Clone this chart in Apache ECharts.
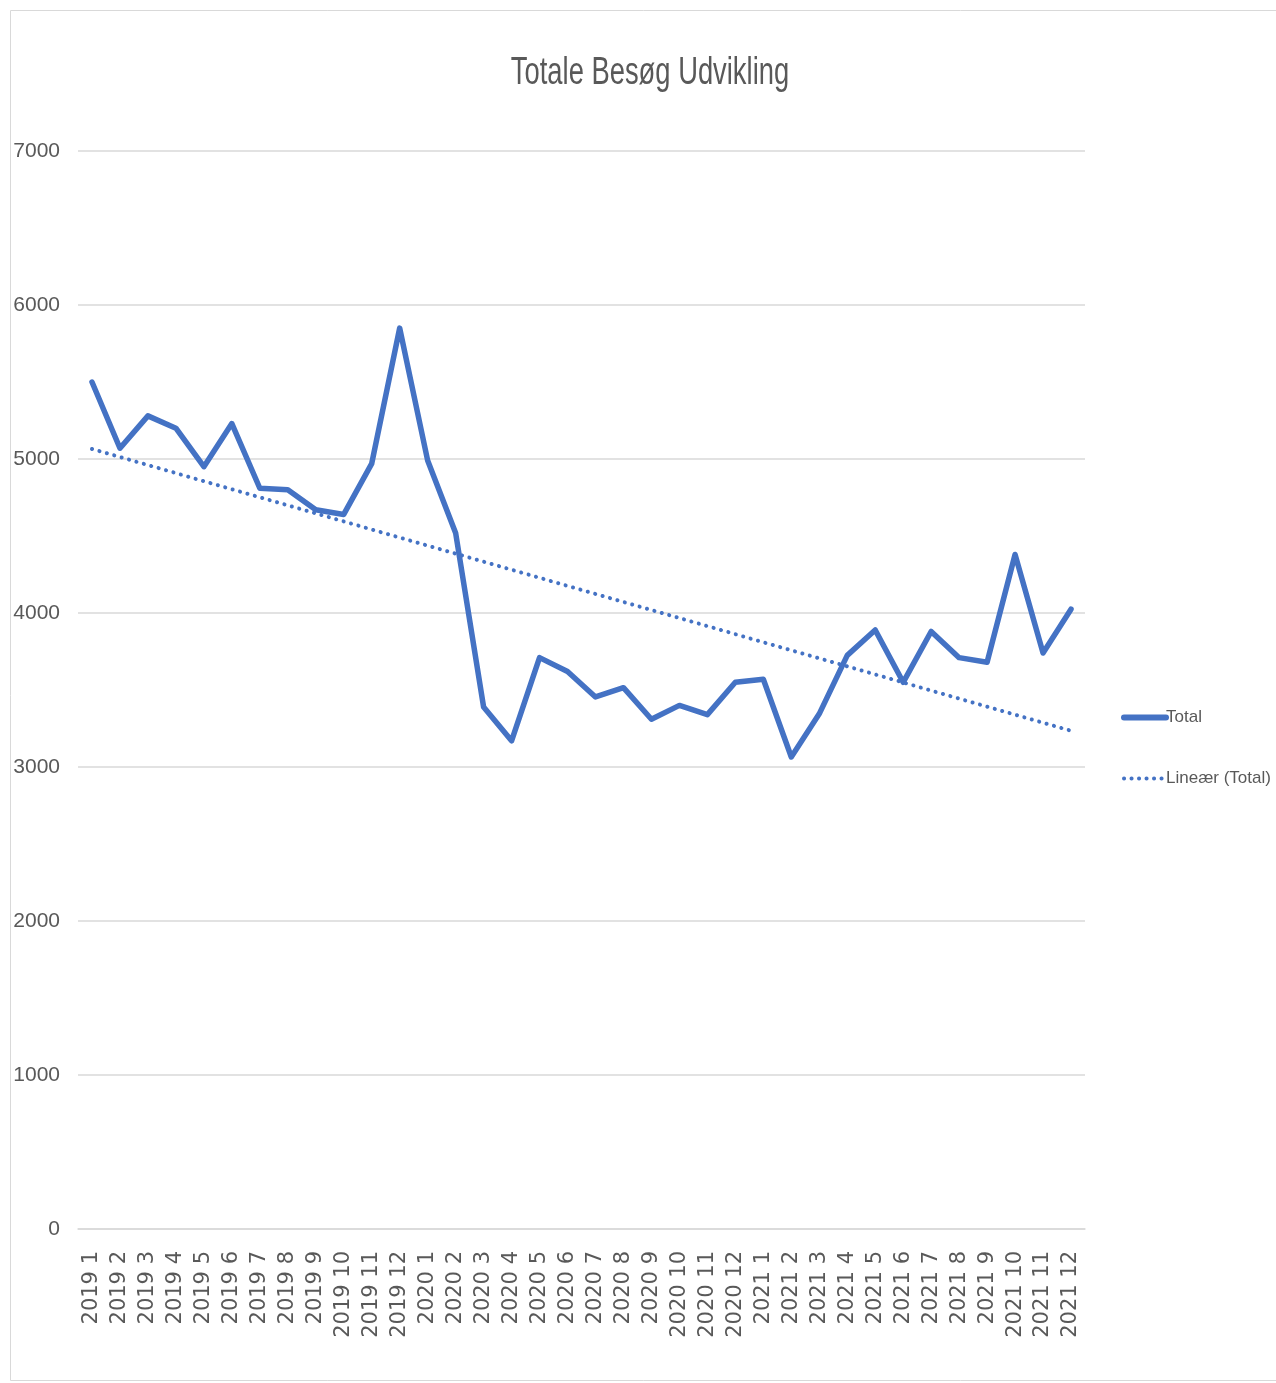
<!DOCTYPE html>
<html>
<head>
<meta charset="utf-8">
<script src="https://cdn.jsdelivr.net/npm/echarts@6/dist/echarts.min.js"></script>
<style>
  html, body { margin: 0; padding: 0; background: #fff; }
  #chart { width: 1276px; height: 1383px; }
</style>
</head>
<body>
<div id="chart"></div>
<script>
// months 2019 1 .. 2021 12
var categories = [
    '2019 1', '2019 2', '2019 3', '2019 4', '2019 5', '2019 6', '2019 7', '2019 8', '2019 9', '2019 10', '2019 11', '2019 12',
    '2020 1', '2020 2', '2020 3', '2020 4', '2020 5', '2020 6', '2020 7', '2020 8', '2020 9', '2020 10', '2020 11', '2020 12',
    '2021 1', '2021 2', '2021 3', '2021 4', '2021 5', '2021 6', '2021 7', '2021 8', '2021 9', '2021 10', '2021 11', '2021 12'
];
var totalValues = [
    5500, 5070, 5280, 5200, 4950, 5230, 4810, 4800, 4670, 4640, 4970, 5850,
    4990, 4520, 3390, 3170, 3710, 3620, 3455, 3515, 3310, 3400, 3340, 3550,
    3570, 3065, 3345, 3725, 3890, 3550, 3880, 3710, 3680, 4380, 3740, 4025
];
// trendline end values (first and last month)
var trendStart = 5065;
var trendEnd = 3235;
var yTicks = [0, 1000, 2000, 3000, 4000, 5000, 6000, 7000];

var textColor = '#595959';
var blue = '#4472C4';
var font = '"Liberation Sans", Arial, sans-serif';

var chart = echarts.init(document.getElementById('chart'));

var option = {
    animation: false,
    legend: {
        orient: 'vertical',
        left: 1116,
        top: 704,
        itemGap: 44,
        itemWidth: 42,
        itemHeight: 20,
        itemStyle: { opacity: 0 },
        textStyle: {
            color: textColor,
            fontFamily: font,
            fontSize: 17,
            padding: [0, 0, 0, -5]
        },
        data: [{
            name: 'Total',
            lineStyle: { width: 6, cap: 'round' }
        }, {
            name: 'Lineær (Total)',
            lineStyle: { width: 4, type: [0.1, 7.4], cap: 'round' }
        }]
    },
    graphic: [{
        type: 'rect',
        shape: { x: 10.5, y: 10.5, width: 1300, height: 1370 },
        style: { fill: 'none', stroke: '#d9d9d9', lineWidth: 1 },
        silent: true
    }, {
        // chart title, squeezed horizontally like the narrow original font
        type: 'text',
        x: 650,
        y: 74,
        scaleX: 0.72,
        style: {
            text: 'Totale Besøg Udvikling',
            fill: textColor,
            font: '38px "Liberation Sans", Arial, sans-serif',
            align: 'center',
            verticalAlign: 'middle'
        }
    }],
    grid: {
        left: 78,
        right: 1276 - 1085,
        top: 151,
        bottom: 1383 - 1229,
        containLabel: false
    },
    xAxis: {
        type: 'category',
        data: categories,
        boundaryGap: true,
        axisLine: { show: true, lineStyle: { color: '#d9d9d9', width: 1.5 } },
        axisTick: { show: false },
        axisLabel: {
            rotate: 90,
            interval: 0,
            margin: 22,
            color: textColor,
            fontFamily: '"DejaVu Sans", Verdana, sans-serif',
            fontSize: 21
        }
    },
    yAxis: {
        type: 'value',
        min: yTicks[0],
        max: yTicks[yTicks.length - 1],
        interval: 1000,
        axisLine: { show: false },
        axisTick: { show: false },
        splitLine: { lineStyle: { color: '#d9d9d9', width: 1.5 } },
        axisLabel: {
            margin: 18,
            color: textColor,
            fontFamily: font,
            fontSize: 21,
            formatter: function (v) { return String(v); }
        }
    },
    series: [{
        name: 'Total',
        type: 'line',
        data: totalValues,
        symbol: 'none',
        lineStyle: { color: blue, width: 5.5, cap: 'round', join: 'round' },
        itemStyle: { color: blue },
        z: 3
    }, {
        name: 'Lineær (Total)',
        type: 'line',
        data: [[categories[0], trendStart], [categories[categories.length - 1], trendEnd]],
        symbol: 'none',
        lineStyle: { color: blue, width: 4, type: [0.1, 7.6], cap: 'round' },
        itemStyle: { color: blue },
        z: 2
    }]
};

chart.setOption(option);
</script>
</body>
</html>
